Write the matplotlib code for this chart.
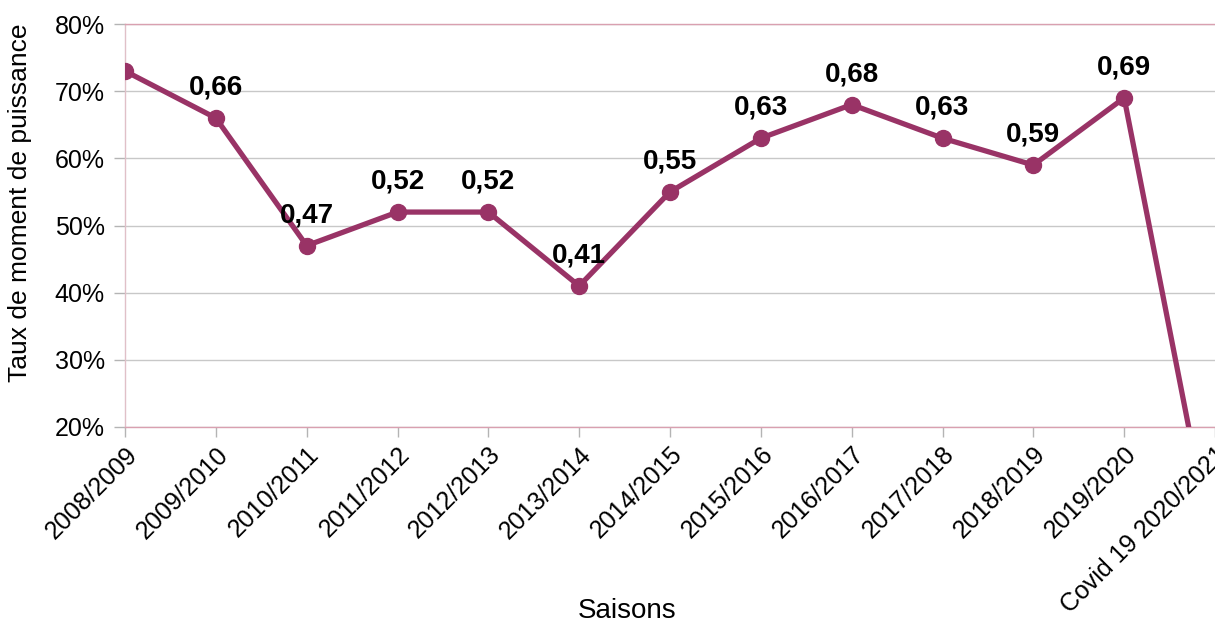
import matplotlib
matplotlib.use("Agg")
import matplotlib.pyplot as plt
from matplotlib.ticker import FuncFormatter

plt.rcParams['font.family'] = ['Liberation Sans', 'DejaVu Sans']

saisons = ["2008/2009", "2009/2010", "2010/2011", "2011/2012", "2012/2013",
           "2013/2014", "2014/2015", "2015/2016", "2016/2017", "2017/2018",
           "2018/2019", "2019/2020", "Covid 19 2020/2021"]
taux = [0.73, 0.66, 0.47, 0.52, 0.52, 0.41, 0.55, 0.63, 0.68, 0.63, 0.59, 0.69, 0.0]
# which points carry a value label
show_label = [False, True, True, True, True, True, True, True, True, True, True, True, False]

col = "#993366"

fig = plt.figure(figsize=(12.15, 6.25), dpi=100)
ax = fig.add_axes([125/1215, 1 - 427/625, 1090/1215, 403/625])

x = list(range(len(saisons)))
ax.plot(x, taux, color=col, lw=3.8, marker="o", ms=11.5, clip_on=True, zorder=3)

for xi, v, s in zip(x, taux, show_label):
    if s:
        ax.annotate(("%.2f" % v).replace(".", ","), (xi, v), xytext=(0, 22),
                    textcoords="offset points", ha="center", va="center",
                    fontsize=20, fontweight="bold", color="black", zorder=4)

ax.set_xlim(0, 12)
ax.set_ylim(0.2, 0.8)
ax.set_yticks([0.2, 0.3, 0.4, 0.5, 0.6, 0.7, 0.8])
ax.yaxis.set_major_formatter(FuncFormatter(lambda v, p: "%d%%" % round(v * 100)))
ax.set_xticks(x)
ax.set_xticklabels(saisons, rotation=45, ha="right", rotation_mode="anchor")

ax.grid(axis="y", color="#c8c8c8", lw=1)
ax.set_axisbelow(True)
for sp in ["top", "bottom"]:
    ax.spines[sp].set_color("#d9a0b0")
    ax.spines[sp].set_linestyle((0, (2, 1)))
    ax.spines[sp].set_linewidth(1)
ax.spines["right"].set_visible(False)
ax.spines["left"].set_color("#e0c0c8")
ax.spines["left"].set_linewidth(1)

ax.tick_params(axis="both", labelsize=18, color="#b4b4b4", width=1)
ax.tick_params(axis="y", length=8, pad=6.5)
ax.tick_params(axis="x", length=7, pad=4)

ax.set_xlabel("Saisons", fontsize=20)
ax.xaxis.set_label_coords(0.461, -0.425)
ax.set_ylabel("Taux de moment de puissance", fontsize=19)
ax.yaxis.set_label_coords(-0.085, 0.556)

fig.savefig("out.png", dpi=100)
